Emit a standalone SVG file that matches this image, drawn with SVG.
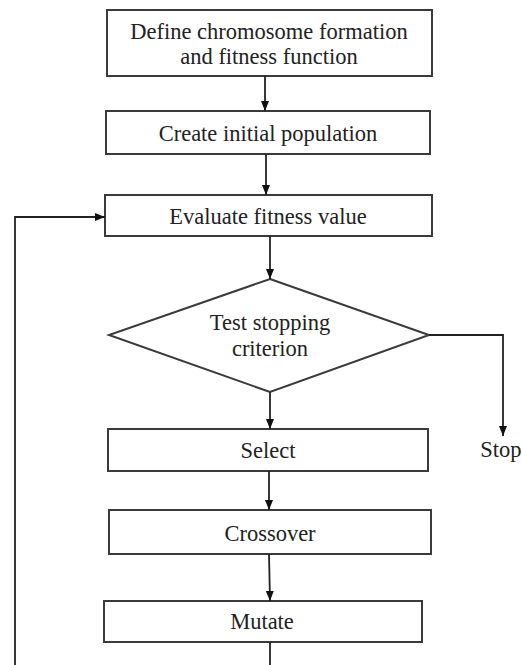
<svg xmlns="http://www.w3.org/2000/svg" width="522" height="665" viewBox="0 0 522 665">
<style>
.box{fill:#fff;stroke:#3a3a3a;stroke-width:2}
.t{font-family:"Liberation Serif",serif;font-size:22.5px;fill:#222;text-anchor:middle}
.c{fill:none;stroke:#222;stroke-width:1.8}
</style>
<defs>
<marker id="ah" viewBox="0 0 10 10" refX="10" refY="5" markerWidth="10" markerHeight="10" markerUnits="userSpaceOnUse" orient="auto">
<path d="M0,1 L10,5 L0,9 Z" fill="#111"/>
</marker>
</defs>
<rect width="522" height="665" fill="#fff"/>
<g id="n1"><rect class="box" x="107" y="10" width="325" height="66"/>
<text class="t" x="269" y="39">Define chromosome formation</text>
<text class="t" x="269" y="64">and fitness function</text></g>
<g id="n2"><rect class="box" x="106" y="111" width="324" height="43"/>
<text class="t" x="268" y="141">Create initial population</text></g>
<g id="n3"><rect class="box" x="105" y="195" width="327" height="41"/>
<text class="t" x="268" y="224">Evaluate fitness value</text></g>
<g id="n4"><polygon class="box" points="270,279 429,335 270,392 109,335"/>
<text class="t" x="270" y="330">Test stopping</text>
<text class="t" x="270" y="356">criterion</text></g>
<g id="n5"><rect class="box" x="108" y="429" width="320" height="42"/>
<text class="t" x="268" y="458">Select</text></g>
<g id="n6"><rect class="box" x="109" y="510" width="322" height="44"/>
<text class="t" x="270" y="541">Crossover</text></g>
<g id="n7"><rect class="box" x="104" y="601" width="318" height="41"/>
<text class="t" x="262" y="629">Mutate</text></g>
<g id="stop"><text class="t" x="501" y="457">Stop</text></g>
<g id="connectors">
<line class="c" x1="265" y1="76" x2="265" y2="111" marker-end="url(#ah)"/>
<line class="c" x1="266" y1="154" x2="266" y2="195" marker-end="url(#ah)"/>
<line class="c" x1="270" y1="236" x2="270" y2="279" marker-end="url(#ah)"/>
<line class="c" x1="270" y1="392" x2="270" y2="429" marker-end="url(#ah)"/>
<polyline class="c" points="429,335 503,335 503,436" marker-end="url(#ah)"/>
<line class="c" x1="269" y1="471" x2="269" y2="510" marker-end="url(#ah)"/>
<line class="c" x1="269" y1="554" x2="270" y2="601" marker-end="url(#ah)"/>
<line class="c" x1="270" y1="642" x2="270" y2="665"/>
<polyline class="c" points="15,665 15,217 105,217" marker-end="url(#ah)"/>
</g>
</svg>
